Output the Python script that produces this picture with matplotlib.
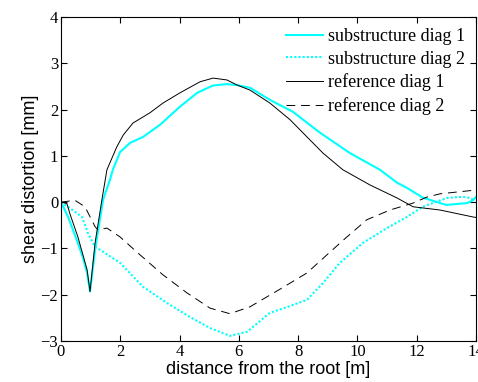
import matplotlib
matplotlib.use("Agg")
import matplotlib.pyplot as plt

# shear distortion along the span, substructure model vs reference model
x_sub1 = [0, 0.24, 0.57, 0.74, 0.88, 0.98, 1.15, 1.42, 1.65, 1.75, 1.99, 2.33, 2.77, 3.34,
          4.01, 4.59, 5.13, 5.6, 5.94, 6.38, 7.05, 7.83, 8.74, 9.75, 10.76, 11.34, 11.67,
          12.2, 12.69, 13.0, 13.36, 13.7, 13.9, 14.0]
y_sub1 = [0, -0.32, -0.88, -1.2, -1.53, -1.93, -1.03, 0.05, 0.48, 0.7, 1.08, 1.28, 1.41, 1.67,
          2.06, 2.36, 2.52, 2.55, 2.53, 2.47, 2.21, 1.95, 1.5, 1.06, 0.7, 0.42, 0.31,
          0.1, 0.0, -0.06, -0.04, -0.02, 0.04, 0.11]

x_sub2 = [0, 0.3, 0.71, 0.91, 1.15, 1.32, 1.99, 2.77, 3.58, 4.35, 5.03, 5.7, 6.28, 7.05,
          7.66, 8.3, 8.84, 9.41, 10.19, 11.0, 11.67, 12.21, 12.55, 13.02, 13.36, 13.7, 13.97]
y_sub2 = [0, -0.13, -0.32, -0.67, -0.97, -1.03, -1.31, -1.83, -2.18, -2.48, -2.72, -2.89, -2.8, -2.39,
          -2.26, -2.11, -1.75, -1.31, -0.88, -0.56, -0.32, -0.1, -0.02, 0.09, 0.11, 0.11, 0.04]

x_ref1 = [0, 0.2, 0.3, 0.57, 0.88, 0.98, 1.15, 1.38, 1.55, 1.88, 2.1, 2.43, 3.0, 3.44,
          4.01, 4.69, 5.13, 5.6, 5.94, 6.38, 7.05, 7.73, 8.3, 8.84, 9.51, 10.43, 11.34, 11.88,
          12.79, 13.9, 14.0]
y_ref1 = [0, -0.03, -0.25, -0.75, -1.46, -1.93, -0.88, 0.05, 0.7, 1.19, 1.45, 1.71, 1.93, 2.14,
          2.36, 2.6, 2.68, 2.64, 2.53, 2.42, 2.14, 1.78, 1.41, 1.06, 0.7, 0.37, 0.09, -0.1,
          -0.17, -0.32, -0.33]

x_ref2 = [0, 0.47, 0.81, 1.15, 1.25, 1.55, 1.99, 2.67, 3.44, 4.25, 5.03, 5.7, 6.38, 7.39,
          8.3, 8.97, 9.65, 10.32, 11.1, 11.88, 12.35, 12.79, 13.97]
y_ref2 = [0, 0.04, -0.1, -0.53, -0.6, -0.56, -0.75, -1.14, -1.57, -1.96, -2.29, -2.41, -2.26, -1.88,
          -1.53, -1.14, -0.75, -0.38, -0.17, -0.02, 0.11, 0.18, 0.26]

labels = ["substructure diag 1", "substructure diag 2", "reference diag 1", "reference diag 2"]

fig = plt.figure(figsize=(4.78, 3.82), dpi=100)
ax = fig.add_axes([0.1276, 0.1073, 0.868, 0.8482])

ax.plot(x_sub1, y_sub1, color="cyan", lw=1.5, ls="-", label=labels[0])
ax.plot(x_sub2, y_sub2, color="cyan", lw=1.5, ls=(0, (1, 1)), label=labels[1])
ax.plot(x_ref1, y_ref1, color="black", lw=0.7, ls="-", label=labels[2])
ax.plot(x_ref2, y_ref2, color="black", lw=0.7, ls=(0, (9, 6)), label=labels[3])

ax.set_xlim(0, 14)
ax.set_ylim(-3, 4)
ax.set_xticks(range(0, 15, 2))
ax.set_yticks(range(-3, 5))
ax.tick_params(direction="in", top=True, right=True, length=4, width=0.8, pad=2)
for lab in ax.get_xticklabels() + ax.get_yticklabels():
    lab.set_family("Liberation Serif")
    lab.set_fontsize(12)
for sp in ax.spines.values():
    sp.set_linewidth(0.8)

ax.set_xlabel("distance from the root [m]", family="Liberation Sans", fontsize=13, labelpad=1)
ax.set_ylabel("shear distortion [mm]", family="Liberation Sans", fontsize=13, labelpad=1)

ax.legend(loc="upper right", frameon=False, prop={"family": "Liberation Serif", "size": 13},
          handlelength=2.0, handletextpad=0.3, labelspacing=0.32, borderaxespad=0.2)

fig.savefig("out.png", dpi=100)
